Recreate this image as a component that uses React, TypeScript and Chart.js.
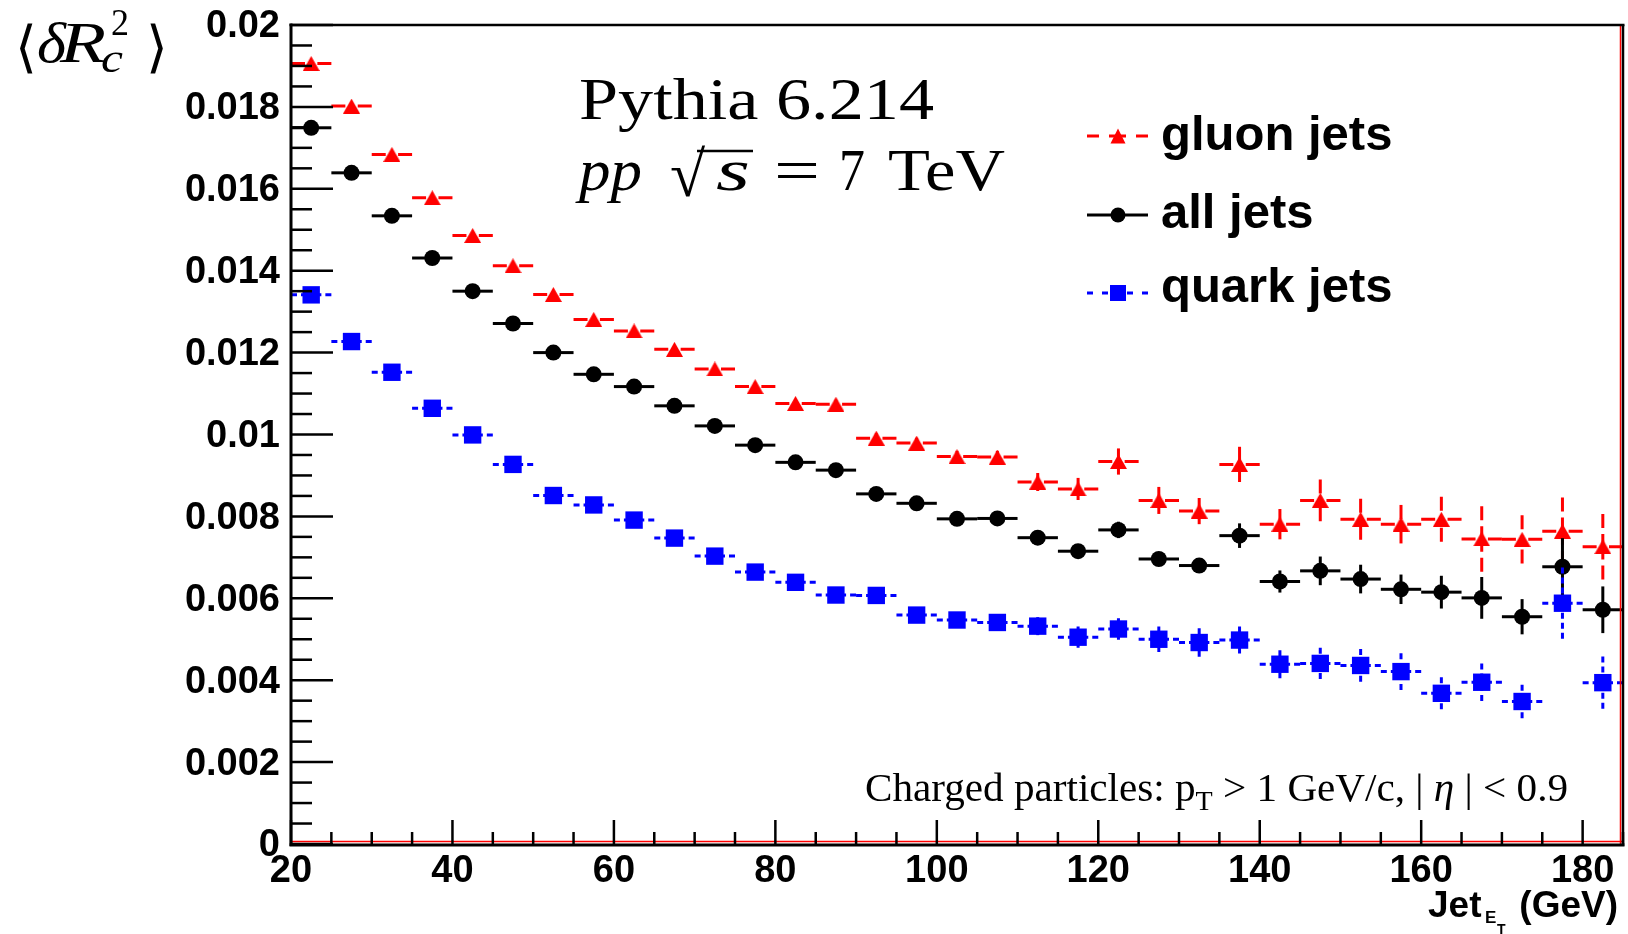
import React, { useEffect, useRef } from 'react';
import { Chart, registerables } from 'chart.js';

Chart.register(...registerables);

// ---------------- data ----------------
const binCenters = [
  22.5, 27.5, 32.5, 37.5, 42.5, 47.5, 52.5, 57.5, 62.5, 67.5, 72.5,
  77.5, 82.5, 87.5, 92.5, 97.5, 102.5, 107.5, 112.5, 117.5, 122.5,
  127.5, 132.5, 137.5, 142.5, 147.5, 152.5, 157.5, 162.5, 167.5,
  172.5, 177.5, 182.5,
];
const binHalfWidth = 2.5;

const gluonJets = [
  0.01906, 0.01802, 0.01684, 0.01578, 0.01486, 0.01412, 0.01342, 0.01281,
  0.01253, 0.01208, 0.0116, 0.01117, 0.01076, 0.01074, 0.00991, 0.00979,
  0.00946, 0.00945, 0.00884, 0.00867, 0.00934, 0.00839, 0.00813, 0.00927,
  0.00781, 0.00839, 0.00793, 0.00781, 0.00793, 0.00745, 0.00744, 0.00764,
  0.00726,
];
const gluonErr = [
  0.00004, 0.00004, 0.00005, 0.00005, 0.00006, 0.00006, 0.00007, 0.00007,
  0.00008, 0.00008, 0.00009, 0.0001, 0.0001, 0.00011, 0.00012, 0.00013,
  0.00014, 0.00015, 0.00022, 0.00027, 0.00032, 0.00033, 0.00032, 0.00043,
  0.00037, 0.00051, 0.0005, 0.00047, 0.00055, 0.0008, 0.00059, 0.00082,
  0.0008,
];

const allJets = [
  0.01749, 0.01639, 0.01534, 0.01431, 0.0135, 0.01271, 0.012, 0.01147,
  0.01117, 0.0107, 0.01021, 0.00974, 0.00932, 0.00913, 0.00855, 0.00832,
  0.00794, 0.00795, 0.00748, 0.00715, 0.00767, 0.00696, 0.0068, 0.00753,
  0.00641, 0.00667, 0.00647, 0.00622, 0.00615, 0.00601, 0.00555, 0.00677,
  0.00572,
];
const allErr = [
  0.00003, 0.00003, 0.00003, 0.00004, 0.00004, 0.00004, 0.00005, 0.00005,
  0.00005, 0.00006, 0.00006, 0.00007, 0.00007, 0.00008, 0.00008, 0.00009,
  0.0001, 0.0001, 0.0001, 0.00011, 0.0002, 0.00012, 0.00015, 0.0003,
  0.00027, 0.00035, 0.00035, 0.00036, 0.0004, 0.00051, 0.00043, 0.0007,
  0.00057,
];

const quarkJets = [
  0.01341, 0.01227, 0.01152, 0.01064, 0.00999, 0.00927, 0.00851, 0.00828,
  0.00791, 0.00747, 0.00703, 0.00664, 0.00639, 0.00608, 0.00607, 0.00559,
  0.00547, 0.00541, 0.00532, 0.00505, 0.00525, 0.005, 0.00492, 0.00498,
  0.00439, 0.00441, 0.00436, 0.00421, 0.00368, 0.00395, 0.00348, 0.00588,
  0.00394,
];
const quarkErr = [
  0.00004, 0.00004, 0.00005, 0.00005, 0.00005, 0.00006, 0.00006, 0.00007,
  0.00007, 0.00008, 0.00008, 0.00009, 0.0001, 0.0001, 0.00011, 0.00013,
  0.00014, 0.00015, 0.00022, 0.00026, 0.00026, 0.00031, 0.00035, 0.00033,
  0.00034, 0.00038, 0.0004, 0.00045, 0.00039, 0.00046, 0.00041, 0.00087,
  0.00064,
];

const seriesLabels = ['gluon jets', 'all jets', 'quark jets'];
const xTickValues = [20, 40, 60, 80, 100, 120, 140, 160, 180];
const yTickValues = [0, 0.002, 0.004, 0.006, 0.008, 0.01, 0.012, 0.014, 0.016, 0.018, 0.02];

const X_MIN = 20;
const X_MAX = 185;
const Y_MIN = 0;
const Y_MAX = 0.02;

// ---------------- styles ----------------
const RED = '#ff0000';
const BLUE = '#0000ff';
const BLACK = '#000000';
const SERIF = "'Liberation Serif', 'Times New Roman', serif";
const SANS = "'Liberation Sans', Arial, Helvetica, sans-serif";

function makeTriangle(color: string, w: number, h: number) {
  const c = document.createElement('canvas');
  c.width = w;
  c.height = h;
  const g = c.getContext('2d')!;
  g.fillStyle = color;
  g.beginPath();
  g.moveTo(w / 2, 0);
  g.lineTo(w, h);
  g.lineTo(0, h);
  g.closePath();
  g.fill();
  return c;
}

function seg(ctx: CanvasRenderingContext2D, x1: number, y1: number, x2: number, y2: number, dash: number[]) {
  ctx.setLineDash(dash);
  ctx.beginPath();
  ctx.moveTo(x1, y1);
  ctx.lineTo(x2, y2);
  ctx.stroke();
}

function fitText(ctx: CanvasRenderingContext2D, s: string, x: number, y: number, font: string, width?: number) {
  ctx.font = font;
  if (!width) {
    ctx.fillText(s, x, y);
    return;
  }
  const w = ctx.measureText(s).width;
  ctx.save();
  ctx.translate(x, y);
  ctx.scale(width / w, 1);
  ctx.fillText(s, 0, 0);
  ctx.restore();
}

const errorBarPlugin = {
  id: 'errorBars',
  beforeDatasetDraw(chart: any, args: any) {
    const ds = chart.data.datasets[args.index];
    const xs = chart.scales.x;
    const ys = chart.scales.y;
    const ctx: CanvasRenderingContext2D = chart.ctx;
    ctx.save();
    ctx.strokeStyle = ds.barColor;
    ctx.lineWidth = 3;
    ctx.lineCap = 'butt';
    ds.data.forEach((p: any, i: number) => {
      const cx = xs.getPixelForValue(p.x);
      const cy = ys.getPixelForValue(p.y);
      const xl = xs.getPixelForValue(p.x - binHalfWidth);
      const xr = xs.getPixelForValue(p.x + binHalfWidth);
      const yt = ys.getPixelForValue(p.y + ds.errors[i]);
      const yb = ys.getPixelForValue(p.y - ds.errors[i]);
      seg(ctx, xl, cy, cx, cy, ds.dash);
      seg(ctx, xr, cy, cx, cy, ds.dash);
      seg(ctx, cx, yt, cx, cy, ds.dash);
      seg(ctx, cx, yb, cx, cy, ds.dash);
    });
    ctx.restore();
  },
};

const framePlugin = {
  id: 'rootFrame',
  afterDatasetsDraw(chart: any) {
    const ctx: CanvasRenderingContext2D = chart.ctx;
    const { left, right, top, bottom } = chart.chartArea;
    const xs = chart.scales.x;
    const ys = chart.scales.y;
    ctx.save();
    ctx.setLineDash([]);
    // red inner frame lines
    ctx.strokeStyle = RED;
    ctx.lineWidth = 1.5;
    seg(ctx, left, bottom - 2.5, right, bottom - 2.5, []);
    seg(ctx, right - 2.5, top, right - 2.5, bottom, []);
    // ticks
    ctx.strokeStyle = BLACK;
    ctx.lineWidth = 2.5;
    for (let k = 0; k <= 40; k++) {
      const v = Y_MIN + k * 0.0005;
      const y = ys.getPixelForValue(v);
      const len = k % 4 === 0 ? 42 : 21;
      seg(ctx, left, y, left + len, y, []);
    }
    for (let v = X_MIN; v <= X_MAX; v += 5) {
      const x = xs.getPixelForValue(v);
      const len = v % 20 === 0 ? 24 : 12;
      seg(ctx, x, bottom, x, bottom - len, []);
    }
    // black frame
    ctx.lineWidth = 3;
    seg(ctx, left, top - 1.5, left, bottom + 2, []);
    seg(ctx, left - 1.5, bottom + 1, right + 1.5, bottom + 1, []);
    ctx.lineWidth = 2.5;
    seg(ctx, left - 1.5, top, right + 1.5, top, []);
    seg(ctx, right, top, right, bottom + 2, []);
    ctx.restore();
  },
  afterDraw(chart: any) {
    const ctx: CanvasRenderingContext2D = chart.ctx;
    ctx.save();
    ctx.fillStyle = BLACK;
    ctx.textAlign = 'left';
    ctx.textBaseline = 'alphabetic';

    // y-axis title  <δR_c^2>
    fitText(ctx, '\u27E8', 15, 66, `56px ${SERIF}`);
    fitText(ctx, 'δ', 37, 62, `italic 58px ${SERIF}`, 29);
    fitText(ctx, 'R', 60, 62, `italic 58px ${SERIF}`, 46);
    fitText(ctx, '2', 111, 35, `38px ${SERIF}`, 18);
    fitText(ctx, 'c', 101, 72, `italic 42px ${SERIF}`, 22);
    fitText(ctx, '\u27E9', 146, 66, `56px ${SERIF}`);

    // Pythia label
    fitText(ctx, 'Pythia 6.214', 579, 119, `60px ${SERIF}`, 355);
    fitText(ctx, 'pp', 579, 190, `italic 60px ${SERIF}`, 63);
    fitText(ctx, '√', 670, 196, `64px ${SERIF}`);
    ctx.strokeStyle = BLACK;
    ctx.lineWidth = 2.5;
    seg(ctx, 697, 151, 753, 151, []);
    fitText(ctx, 's', 716, 190, `italic 60px ${SERIF}`, 34);
    fitText(ctx, '=', 774, 190, `60px ${SERIF}`, 46);
    fitText(ctx, '7', 839, 190, `60px ${SERIF}`, 26);
    fitText(ctx, 'TeV', 888, 190, `60px ${SERIF}`, 117);

    // selection text
    {
      const pieces = [
        { s: 'Charged particles: p', f: `41px ${SERIF}`, dy: 0 },
        { s: 'T', f: `28px ${SERIF}`, dy: 9 },
        { s: ' > 1 GeV/c, | ', f: `41px ${SERIF}`, dy: 0 },
        { s: 'η', f: `italic 41px ${SERIF}`, dy: 0 },
        { s: ' | < 0.9', f: `41px ${SERIF}`, dy: 0 },
      ];
      let total = 0;
      const ws = pieces.map((p) => {
        ctx.font = p.f;
        const w = ctx.measureText(p.s).width;
        total += w;
        return w;
      });
      const target = 703;
      const sx = target / total;
      ctx.save();
      ctx.translate(865, 801);
      ctx.scale(sx, 1);
      let x = 0;
      pieces.forEach((p, i) => {
        ctx.font = p.f;
        ctx.fillText(p.s, x, p.dy);
        x += ws[i];
      });
      ctx.restore();
    }

    // x-axis title
    fitText(ctx, 'Jet', 1428, 917, `bold 37px ${SANS}`);
    fitText(ctx, 'E', 1485, 923, `bold 17px ${SANS}`);
    fitText(ctx, 'T', 1497, 934, `bold 14px ${SANS}`);
    ctx.textAlign = 'right';
    fitText(ctx, '(GeV)', 1618, 917, `bold 37px ${SANS}`);
    ctx.textAlign = 'left';

    // legend
    const lx1 = 1087;
    const lx2 = 1148;
    const lmx = 1118;
    const rows = [
      { y: 136, color: RED, dash: [12, 10], base: 150 },
      { y: 215, color: BLACK, dash: [], base: 228 },
      { y: 293, color: BLUE, dash: [6, 9], base: 302 },
    ];
    rows.forEach((r, i) => {
      ctx.strokeStyle = r.color;
      ctx.lineWidth = 3;
      seg(ctx, lx1, r.y, lmx, r.y, r.dash);
      seg(ctx, lx2, r.y, lmx, r.y, r.dash);
      ctx.setLineDash([]);
      ctx.fillStyle = r.color;
      if (i === 0) {
        ctx.beginPath();
        ctx.moveTo(lmx, r.y - 7.5);
        ctx.lineTo(lmx + 7.5, r.y + 7.5);
        ctx.lineTo(lmx - 7.5, r.y + 7.5);
        ctx.closePath();
        ctx.fill();
      } else if (i === 1) {
        ctx.beginPath();
        ctx.arc(lmx, r.y, 7.5, 0, Math.PI * 2);
        ctx.fill();
      } else {
        ctx.fillRect(lmx - 8, r.y - 8, 16, 16);
      }
      ctx.fillStyle = BLACK;
      fitText(ctx, seriesLabels[i], 1161, r.base, `bold 49px ${SANS}`);
    });
    ctx.restore();
  },
};

export default function App() {
  const ref = useRef<HTMLCanvasElement | null>(null);

  useEffect(() => {
    const canvas = ref.current;
    if (!canvas) return;
    const tri = makeTriangle(RED, 17, 15);
    const toPts = (ys: number[]) => binCenters.map((x, i) => ({ x, y: ys[i] }));

    const chart = new Chart(canvas, {
      type: 'scatter',
      data: {
        datasets: [
          {
            label: seriesLabels[0],
            data: toPts(gluonJets),
            pointStyle: tri as any,
            pointRadius: 9,
            backgroundColor: RED,
            borderColor: RED,
            borderWidth: 0,
            order: 3,
            errors: gluonErr,
            barColor: RED,
            dash: [14, 6],
          } as any,
          {
            label: seriesLabels[1],
            data: toPts(allJets),
            pointStyle: 'circle',
            pointRadius: 8,
            backgroundColor: BLACK,
            borderColor: BLACK,
            borderWidth: 0,
            order: 2,
            errors: allErr,
            barColor: BLACK,
            dash: [],
          } as any,
          {
            label: seriesLabels[2],
            data: toPts(quarkJets),
            pointStyle: 'rect',
            pointRadius: 12.3,
            backgroundColor: BLUE,
            borderColor: BLUE,
            borderWidth: 0,
            order: 1,
            errors: quarkErr,
            barColor: BLUE,
            dash: [6, 4],
          } as any,
        ],
      },
      options: {
        animation: false,
        responsive: false,
        devicePixelRatio: 1,
        layout: { autoPadding: false, padding: { top: 25, right: 5, left: 0, bottom: 0 } },
        plugins: {
          legend: { display: false },
          tooltip: { enabled: false },
        },
        scales: {
          x: {
            type: 'linear',
            min: X_MIN,
            max: X_MAX,
            grid: { display: false, drawTicks: false },
            border: { display: false },
            ticks: {
              color: BLACK,
              padding: 9,
              maxRotation: 0,
              autoSkip: false,
              includeBounds: false,
              font: { family: SANS, size: 38, weight: 'bold', lineHeight: 1 },
              callback: (v: any) => String(v),
            },
            afterBuildTicks: (s: any) => {
              s.ticks = xTickValues.map((v) => ({ value: v }));
            },
            afterFit: (s: any) => {
              s.height = 90;
              s.paddingLeft = 0;
              s.paddingRight = 0;
            },
          },
          y: {
            type: 'linear',
            min: Y_MIN,
            max: Y_MAX,
            grid: { display: false, drawTicks: false },
            border: { display: false },
            ticks: {
              color: BLACK,
              padding: 11,
              labelOffset: 2,
              autoSkip: false,
              includeBounds: false,
              font: { family: SANS, size: 38, weight: 'bold', lineHeight: 1 },
              callback: (v: any) => (v === 0 ? '0' : String(parseFloat(Number(v).toFixed(4)))),
            },
            afterBuildTicks: (s: any) => {
              s.ticks = yTickValues.map((v) => ({ value: v }));
            },
            afterFit: (s: any) => {
              s.width = 291;
              s.paddingTop = 0;
              s.paddingBottom = 0;
            },
          },
        },
      } as any,
      plugins: [errorBarPlugin as any, framePlugin as any],
    });

    return () => chart.destroy();
  }, []);

  return (
    <div style={{ position: 'absolute', left: 0, top: 0, width: 1628, height: 934, background: '#fff' }}>
      <canvas ref={ref} width={1628} height={934} style={{ display: 'block', width: 1628, height: 934 }} />
    </div>
  );
}
